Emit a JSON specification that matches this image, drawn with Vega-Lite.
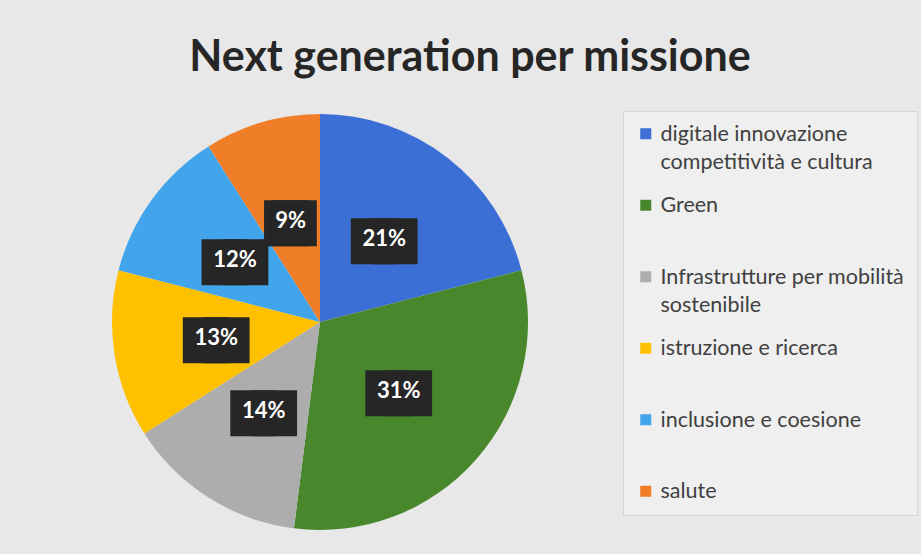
{
  "$schema": "https://vega.github.io/schema/vega-lite/v6.json",
  "width": 640,
  "height": 464,
  "autosize": {"type": "none"},
  "padding": {"left": 0, "top": 90, "right": 281, "bottom": 0},
  "background": "#e8e8e8",
  "config": {
    "view": {"stroke": null},
    "style": {"guide-label": {"lineHeight": 28, "dy": 7}}
  },
  "title": {
    "text": "Next generation per missione",
    "font": "Lato",
    "fontSize": 43,
    "fontWeight": "bold",
    "color": "#262626",
    "anchor": "middle",
    "frame": "group",
    "dx": 150,
    "offset": 10
  },
  "data": {
    "values": [
      {"missione": "digitale innovazione competitività e cultura", "quota": 0.21, "idx": 1},
      {"missione": "Green", "quota": 0.31, "idx": 2},
      {"missione": "Infrastrutture per mobilità sostenibile", "quota": 0.14, "idx": 3},
      {"missione": "istruzione e ricerca", "quota": 0.13, "idx": 4},
      {"missione": "inclusione e coesione", "quota": 0.12, "idx": 5},
      {"missione": "salute", "quota": 0.09, "idx": 6}
    ]
  },
  "encoding": {
    "theta": {"field": "quota", "type": "quantitative", "stack": true},
    "order": {"field": "idx", "type": "quantitative"}
  },
  "layer": [
    {
      "mark": {"type": "arc", "radius": 208, "stroke": null},
      "encoding": {
        "color": {
          "field": "missione",
          "type": "nominal",
          "scale": {
            "domain": ["digitale innovazione competitività e cultura", "Green", "Infrastrutture per mobilità sostenibile", "istruzione e ricerca", "inclusione e coesione", "salute"],
            "range": ["#3B6FD6", "#48872C", "#ADADAD", "#FFC000", "#42A5EB", "#F07D28"]
          },
          "legend": {
            "title": null,
            "orient": "none",
            "legendX": 623,
            "legendY": 21,
            "symbolType": "square",
            "symbolSize": 121,
            "symbolStrokeWidth": 0,
            "labelFont": "Lato",
            "labelFontSize": 21.5,
            "labelColor": "#404040",
            "labelLimit": 400,
            "labelOffset": 4,
            "labelBaseline": "alphabetic",
            "rowPadding": 20.5,
            "padding": 12,
            "fillColor": "#efefef",
            "strokeColor": "#d6d6d6",
            "gridAlign": "all",
            "labelExpr": "datum.label == 'digitale innovazione competitività e cultura' ? ['digitale innovazione', 'competitività e cultura'] : datum.label == 'Infrastrutture per mobilità sostenibile' ? ['Infrastrutture per mobilità', 'sostenibile'] : datum.label"
          }
        }
      }
    },
    {
      "mark": {"type": "text", "text": "■", "font": "DejaVu Sans", "fontSize": 60, "radius": 105, "color": "#262626", "dx": {"expr": "datum.quota < 0.1 ? -3.5 : -10.5"}}
    },
    {
      "mark": {"type": "text", "text": "■", "font": "DejaVu Sans", "fontSize": 60, "radius": 105, "color": "#262626", "dx": {"expr": "datum.quota < 0.1 ? 3.5 : 10.5"}}
    },
    {
      "mark": {"type": "text", "radius": 105, "font": "Lato", "fontSize": 22, "fontWeight": "bold", "color": "#ffffff"},
      "encoding": {"text": {"field": "quota", "type": "quantitative", "format": ".0%"}}
    }
  ]
}
